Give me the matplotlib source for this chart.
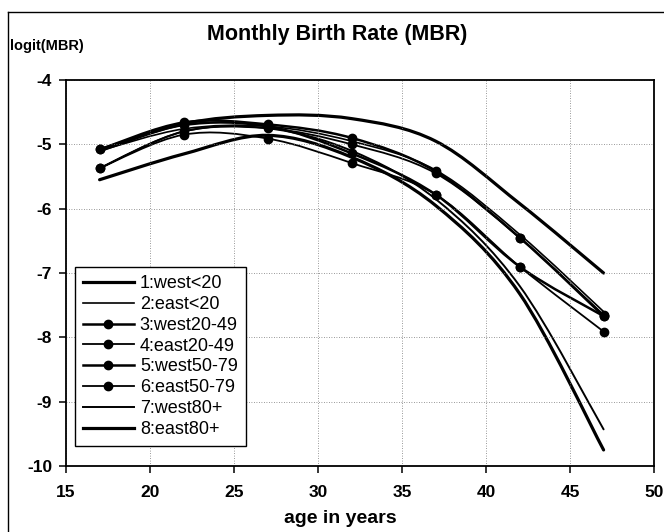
import numpy as np
import matplotlib
matplotlib.use("Agg")
import matplotlib.pyplot as plt
from matplotlib.path import Path
from matplotlib.patches import PathPatch
from matplotlib.lines import Line2D

plt.rcParams['font.family'] = ['Liberation Sans', 'DejaVu Sans']
plt.rcParams['axes.unicode_minus'] = False

ages = [17, 22, 27, 32, 37, 42, 47]

west_lt20 = [-5.10, -4.68, -4.55, -4.60, -4.95, -5.92, -7.00]
east_lt20 = [-5.10, -4.76, -4.72, -4.95, -5.40, -6.40, -7.60]
west_20_49 = [-5.08, -4.66, -4.69, -4.90, -5.42, -6.45, -7.67]
east_20_49 = [-5.37, -4.85, -4.91, -5.29, -5.78, -6.90, -7.91]
west_50_79 = [-5.08, -4.70, -4.72, -5.14, -5.78, -6.90, -7.67]
east_50_79 = [-5.37, -4.80, -4.75, -5.00, -5.45, -6.45, -7.65]
west_80p = [-5.37, -4.80, -4.75, -5.10, -5.85, -7.20, -9.43]
east_80p = [-5.55, -5.15, -4.86, -5.20, -5.95, -7.32, -9.75]

series = [west_lt20, east_lt20, west_20_49, east_20_49,
          west_50_79, east_50_79, west_80p, east_80p]
names = ['1:west<20', '2:east<20', '3:west20-49', '4:east20-49',
         '5:west50-79', '6:east50-79', '7:west80+', '8:east80+']
has_marker = [False, False, True, True, True, True, False, False]
widths = [2.3, 1.2, 1.8, 1.3, 1.8, 1.3, 1.4, 2.3]


def smooth_path(x, y):
    # excel style smoothed line: bezier through the points
    pts = np.column_stack([x, y]).astype(float)
    n = len(pts)
    verts = [pts[0]]
    codes = [Path.MOVETO]
    for i in range(n - 1):
        p0 = pts[max(i - 1, 0)]
        p1 = pts[i]
        p2 = pts[i + 1]
        p3 = pts[min(i + 2, n - 1)]
        verts += [p1 + (p2 - p0) / 6, p2 - (p3 - p1) / 6, p2]
        codes += [Path.CURVE4] * 3
    return Path(verts, codes)


fig = plt.figure(figsize=(6.64, 5.32), dpi=100)
ax = fig.add_axes([66 / 664, 0.124, (654 - 66) / 664, 0.8496 - 0.124])

handles = []
for vals, name, mk, lw in zip(series, names, has_marker, widths):
    ax.add_patch(PathPatch(smooth_path(ages, vals), fill=False,
                           edgecolor='black', lw=lw, capstyle='round'))
    if mk:
        ax.plot(ages, vals, linestyle='none', marker='o', markersize=6,
                color='black')
    handles.append(Line2D([], [], color='black', lw=lw,
                          marker='o' if mk else None, markersize=6))

ax.set_xlim(15, 50)
ax.set_ylim(-10, -4)
ax.set_xticks(range(15, 51, 5))
ax.set_yticks(range(-10, -3))
ax.grid(True, color='#777777', lw=0.6, linestyle=(0, (1, 2)))
for s in ax.spines.values():
    s.set_linewidth(1.3)
ax.tick_params(direction='out', length=5, width=1.1, pad=5)
for lab in ax.get_xticklabels() + ax.get_yticklabels():
    lab.set_fontsize(12.5)
    lab.set_fontweight('bold')
ax.tick_params(axis='x', pad=9)

leg = ax.legend(handles, names, loc='lower left', bbox_to_anchor=(0.015, 0.052),
                fontsize=13, frameon=True, fancybox=False, framealpha=1,
                edgecolor='black', handlelength=2.8, handletextpad=0.35,
                labelspacing=0.21, borderpad=0.45, borderaxespad=0)
leg.get_frame().set_linewidth(1.0)

fig.text(0.508, 0.936, 'Monthly Birth Rate (MBR)', fontsize=15.5,
         fontweight='bold', ha='center', va='center')
fig.text(0.015, 0.914, 'logit(MBR)', fontsize=10.5, fontweight='bold',
         ha='left', va='center')
fig.text(0.512, 0.026, 'age in years', fontsize=14, fontweight='bold',
         ha='center', va='center')

# frame of the scanned page
fig.add_artist(Line2D([0.012, 1.0], [0.977, 0.977], color='black', lw=1.0))
fig.add_artist(Line2D([0.012, 0.012], [0.0, 0.977], color='black', lw=1.0))

fig.savefig('out.png', dpi=100)
